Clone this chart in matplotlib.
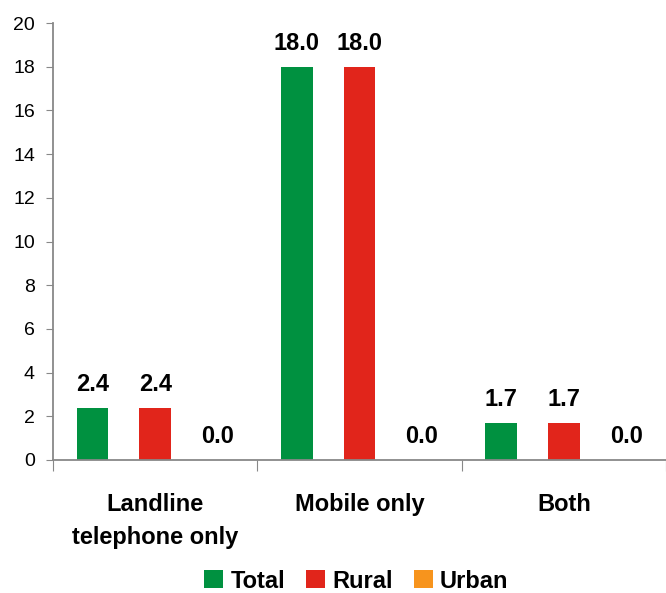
import matplotlib
matplotlib.use("Agg")
import matplotlib.pyplot as plt
import numpy as np
from matplotlib import font_manager

categories = ["Landline\ntelephone only", "Mobile only", "Both"]
series_names = ["Total", "Rural", "Urban"]
total = [2.4, 18.0, 1.7]
rural = [2.4, 18.0, 1.7]
urban = [0.0, 0.0, 0.0]
colors = ["#009140", "#E1251B", "#F7941D"]
yticks = [0, 2, 4, 6, 8, 10, 12, 14, 16, 18, 20]

names = {f.name for f in font_manager.fontManager.ttflist}
fam = "Liberation Sans Narrow" if "Liberation Sans Narrow" in names else "Liberation Sans"
plt.rcParams['font.family'] = [fam, 'DejaVu Sans']

fig = plt.figure(figsize=(6.66, 5.93), dpi=100)
ax = fig.add_axes([0.0796, 0.2243, 0.9204, 0.7367])

x = np.arange(len(categories))
offset = 0.306
width = 0.155
for i, (vals, c) in enumerate(zip([total, rural, urban], colors)):
    pos = x + (i - 1) * offset
    ax.bar(pos, vals, width=width, color=c, label=series_names[i], zorder=2)
    for p, v in zip(pos, vals):
        ax.text(p, v + 0.55, f"{v:.1f}", ha="center", va="bottom",
                fontsize=17, fontweight="bold", color="black")

ax.set_xlim(-0.5, 2.5)
ax.set_ylim(0, 20)
ax.set_yticks(yticks)
ax.tick_params(axis="y", direction="out", length=5, color="#888888", labelsize=14, pad=8)
ax.set_xticks([-0.5, 0.5, 1.5, 2.5])
ax.set_xticklabels([])
ax.tick_params(axis="x", which="major", direction="out", length=8, color="#888888")
ax.set_xticks(x, minor=True)
ax.set_xticklabels(categories, minor=True, fontsize=17, fontweight="bold", linespacing=1.55)
ax.tick_params(axis="x", which="minor", length=0, pad=24)

for s in ["top", "right"]:
    ax.spines[s].set_visible(False)
for s in ["left", "bottom"]:
    ax.spines[s].set_color("#888888")
    ax.spines[s].set_linewidth(1.3)

fig.legend(loc="lower center", bbox_to_anchor=(0.535, -0.035), ncol=3, frameon=False,
           prop={"size": 17, "weight": "bold"}, handlelength=0.8, handleheight=0.8,
           handletextpad=0.3, columnspacing=0.9)

fig.savefig("out.png", dpi=100)
